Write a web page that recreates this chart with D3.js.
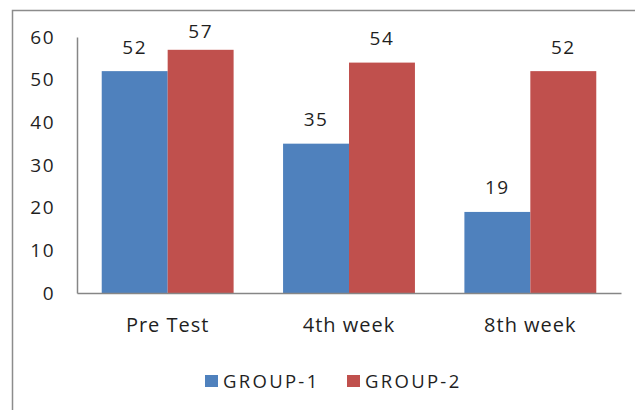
<!DOCTYPE html>
<html>
<head>
<meta charset="utf-8">
<script src="https://cdn.jsdelivr.net/npm/d3@7"></script>
<style>
    body { margin: 0; background: #fff; }
    svg { display: block; font-family: "Open Sans", "Liberation Sans", Arial, sans-serif; }
</style>
</head>
<body>
<div id="chart"></div>
<script>
    // chart data
    var categories = ["Pre Test", "4th week", "8th week"];
    var seriesNames = ["GROUP-1", "GROUP-2"];
    var group1 = [52, 35, 19];
    var group2 = [57, 54, 52];
    var yTicks = [0, 10, 20, 30, 40, 50, 60];

    var colors = ["#4F81BD", "#C0504D"];
    var textColor = "#1f1f1f";
    var font = "Open Sans, Liberation Sans, Arial, sans-serif";

    var width = 635, height = 410;
    var plot = {left: 77, right: 621, top: 37, bottom: 293};

    var svg = d3.select("#chart").append("svg")
            .attr("width", width)
            .attr("height", height);

    // outer chart border (runs off the right and bottom edges)
    svg.append("rect")
            .attr("x", 12.5)
            .attr("y", 10.5)
            .attr("width", 700)
            .attr("height", 500)
            .attr("fill", "#fff")
            .attr("stroke", "#8c8c8c")
            .attr("stroke-width", 1.5);

    // scales
    var x0 = d3.scaleBand().domain(categories).range([plot.left, plot.right]);
    var x1 = d3.scaleBand().domain(seriesNames).range([0, x0.bandwidth()])
            .paddingInner(0).paddingOuter(0.375);
    var y = d3.scaleLinear().domain([0, 60]).range([plot.bottom, plot.top]);

    var rows = categories.map(function (c, i) {
        return {cat: c, values: [group1[i], group2[i]]};
    });

    // bars
    var groups = svg.selectAll("g.cat")
            .data(rows)
            .enter().append("g")
            .attr("class", "cat")
            .attr("transform", function (d) { return "translate(" + x0(d.cat) + ",0)"; });

    groups.selectAll("rect")
            .data(function (d) {
                return d.values.map(function (v, j) { return {name: seriesNames[j], value: v, idx: j}; });
            })
            .enter().append("rect")
            .attr("x", function (d) { return x1(d.name); })
            .attr("y", function (d) { return y(d.value); })
            .attr("width", x1.bandwidth())
            .attr("height", function (d) { return y(0) - y(d.value); })
            .attr("fill", function (d) { return colors[d.idx]; });

    // data labels
    groups.selectAll("text")
            .data(function (d) {
                return d.values.map(function (v, j) { return {name: seriesNames[j], value: v}; });
            })
            .enter().append("text")
            .attr("x", function (d) { return x1(d.name) + x1.bandwidth() / 2; })
            .attr("y", function (d) { return Math.max(y(d.value) - 17.5, 38); })
            .attr("text-anchor", "middle")
            .attr("fill", textColor)
            .style("font-size", "19px")
            .style("letter-spacing", "1.5px")
            .text(function (d) { return d.value; });

    // y axis
    var yAxis = svg.append("g")
            .attr("transform", "translate(" + plot.left + ",0)")
            .call(d3.axisLeft(y).tickValues(yTicks).tickSize(0).tickPadding(22));
    yAxis.select(".domain").attr("stroke", "#868686").attr("stroke-width", 1.5);
    yAxis.selectAll("text")
            .attr("fill", textColor)
            .style("font-size", "19px")
            .style("letter-spacing", "1.5px")
            .style("font-family", font);

    // x axis
    var xAxis = svg.append("g")
            .attr("transform", "translate(0," + plot.bottom + ")")
            .call(d3.axisBottom(x0).tickSize(0).tickPadding(25));
    xAxis.select(".domain").attr("stroke", "#868686").attr("stroke-width", 1.5);
    xAxis.selectAll("text")
            .attr("fill", textColor)
            .style("font-size", "20px")
            .style("letter-spacing", "1px")
            .style("font-family", font);

    // legend
    var legendX = [205, 347];
    var legend = svg.selectAll("g.legend")
            .data(seriesNames)
            .enter().append("g")
            .attr("class", "legend")
            .attr("transform", function (d, i) { return "translate(" + legendX[i] + ",375)"; });
    legend.append("rect")
            .attr("width", 13)
            .attr("height", 12)
            .attr("fill", function (d, i) { return colors[i]; });
    legend.append("text")
            .attr("x", 18)
            .attr("y", 12.5)
            .attr("fill", textColor)
            .style("font-size", "18.5px")
            .style("letter-spacing", "2.3px")
            .text(function (d) { return d; });
</script>
</body>
</html>
